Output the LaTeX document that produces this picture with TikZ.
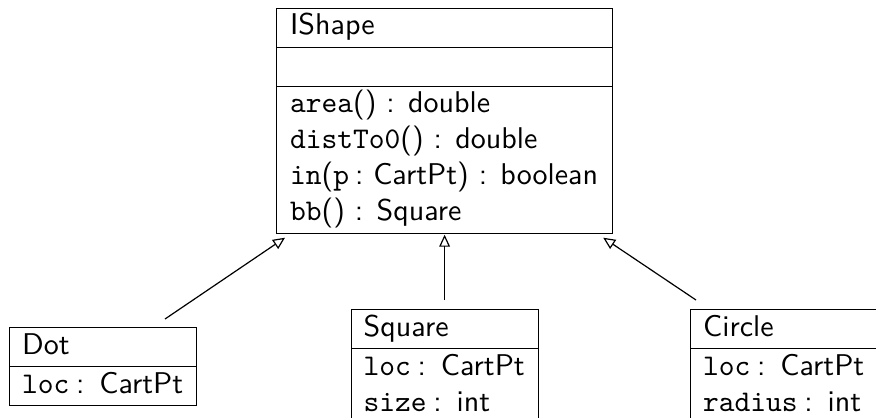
\documentclass[tikz,border=0pt]{standalone}
\usepackage{fontspec}
\usetikzlibrary{shapes.multipart,arrows.meta,calc}
\newcommand{\attrsep}{\hspace{2.2pt}:\hspace{5pt}}
\begin{document}
\begin{tikzpicture}[x=0.33333pt,y=-0.33333pt,
  umlbox/.style={draw, line width=0.4pt, rectangle split, rectangle split parts=#1,
    rectangle split part align=left,
    anchor=north west, inner xsep=4.5pt, inner ysep=0.3pt, align=left, font=\sffamily},
  smallbox/.style={umlbox=2, inner xsep=4.2pt, minimum width=62.33pt},
  inherit/.style={line width=0.4pt, -{Triangle[open,length=4pt,width=3.6pt]}}]
\useasboundingbox (0,0) rectangle (876,417);

\node[umlbox=3, minimum width=112pt] (ishape) at (276,7.5)
  {\strut IShape
   \nodepart{second}\strut
   \nodepart{third}\strut\texttt{area}() : double\\
   \strut\texttt{distTo0}() : double\\
   \strut\texttt{in}(\texttt{p}\hspace{2pt}:\hspace{3.3pt}CartPt) : boolean\\
   \strut\texttt{bb}() : Square};

\node[smallbox] (dot) at (9,327)
  {\strut Dot
   \nodepart{second}\strut\texttt{loc}\attrsep CartPt};

\node[smallbox] (square) at (350.5,309)
  {\strut Square
   \nodepart{second}\strut\texttt{loc}\attrsep CartPt\\
   \strut\texttt{size}\attrsep int};

\node[smallbox, minimum width=66pt] (circle) at (690,309)
  {\strut Circle
   \nodepart{second}\strut\texttt{loc}\attrsep CartPt\\
   \strut\texttt{radius}\attrsep int};

\coordinate (dotfrom) at ($(dot.north west)+(156,-8)$);
\coordinate (dotto) at ($(ishape.south west)+(9,4)$);
\coordinate (sqfrom) at ($(ishape.south |- square.north)+(0,-9)$);
\coordinate (sqto) at ($(ishape.south)+(0,1)$);
\coordinate (cifrom) at ($(circle.north west)+(6,-9)$);
\coordinate (cito) at ($(ishape.south east)+(-10,4)$);

\draw[inherit] (dotfrom) -- (dotto);
\draw[inherit] (sqfrom) -- (sqto);
\draw[inherit] (cifrom) -- (cito);
\end{tikzpicture}
\end{document}
